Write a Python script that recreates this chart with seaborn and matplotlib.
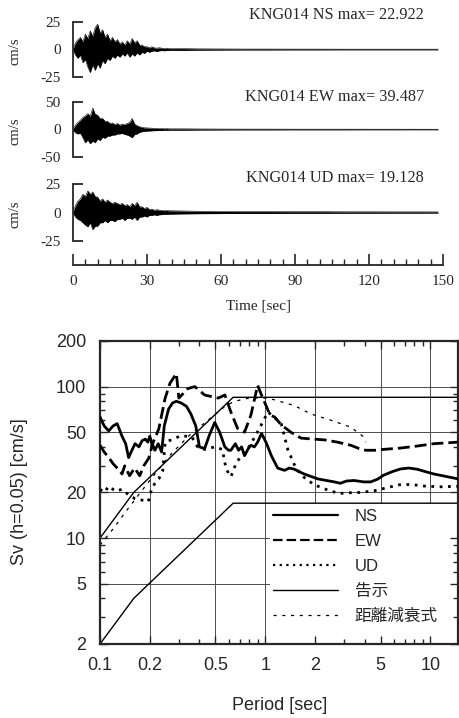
import numpy as np
import pandas as pd
import matplotlib
matplotlib.use("Agg")
import matplotlib.pyplot as plt
import seaborn as sns
from matplotlib.ticker import FixedLocator, FixedFormatter, NullFormatter, MultipleLocator, LogLocator
from matplotlib.font_manager import FontProperties
from matplotlib.patches import Rectangle

# ---------------- data: velocity traces (envelopes, cm/s) ----------------
TRACE_T = [0, 1, 2, 3, 4, 5, 6, 7, 8, 9, 10, 11, 12, 13, 14, 15, 16, 17, 18, 19, 20,
           21, 22, 23, 24, 25, 26, 27, 28, 29, 30, 31, 32, 33, 34, 35, 36, 37, 38, 39, 40,
           45, 50, 60, 70, 80, 90, 100, 110, 120, 130, 140, 148]

NS_UP = [0.5, 6, 9, 11, 7, 14, 10, 17, 12, 20, 23, 15, 18, 11, 14, 8, 11, 7, 9, 5, 7,
         4, 8, 5, 10, 6, 8, 4, 4, 2.5, 2.5, 1.5, 2.5, 1.5, 1.2, 1.6, 1.2, 0.9, 1.2, 0.8, 0.8,
         0.8, 0.6, 0.5, 0.4, 0.4, 0.35, 0.35, 0.3, 0.3, 0.3, 0.3, 0.3]
NS_LO = [-0.5, -5, -8, -5, -12, -9, -16, -21, -14, -19, -13, -17, -10, -13, -8, -10, -6, -8, -5, -7, -4,
         -6, -3, -7, -4, -6, -3, -5, -2.5, -3.5, -1.5, -2.5, -1.5, -1.2, -1.8, -1.2, -0.9, -1.2, -0.8, -0.8, -0.7,
         -0.8, -0.6, -0.5, -0.4, -0.4, -0.35, -0.35, -0.3, -0.3, -0.3, -0.3, -0.3]

EW_UP = [1, 8, 13, 17, 22, 25, 29, 24, 39, 28, 26, 20, 20, 15, 15, 11, 12, 9, 11, 8, 10,
         9, 11, 13, 20, 10, 7, 5, 4, 3, 3, 2.5, 2.5, 2, 2, 1.6, 1.8, 1.4, 1.6, 1.2, 1.2,
         1.2, 1.0, 0.8, 0.7, 0.7, 0.6, 0.6, 0.6, 0.55, 0.55, 0.5, 0.5]
EW_LO = [-1, -6, -8, -7, -15, -24, -19, -26, -21, -24, -17, -20, -14, -16, -12, -12, -10, -10, -8, -8, -7,
         -9, -10, -12, -15, -9, -8, -5, -4, -3, -3, -2.5, -2.5, -2, -2, -1.6, -1.8, -1.4, -1.6, -1.2, -1.2,
         -1.2, -1.0, -0.8, -0.7, -0.7, -0.6, -0.6, -0.6, -0.55, -0.55, -0.5, -0.5]

UD_UP = [0.5, 6, 10, 12, 16, 14, 19, 16, 18, 14, 13.5, 10, 12, 9, 11, 9, 8, 9, 8, 7, 8,
         6, 7, 5, 8, 6, 9, 5, 5, 3.5, 4.5, 2.5, 3, 2, 2.5, 2, 1.8, 1.6, 1.8, 1.5, 1.5,
         1.3, 1.1, 0.9, 0.8, 0.8, 0.7, 0.7, 0.6, 0.6, 0.55, 0.55, 0.5]
UD_LO = [-0.5, -4, -6, -7, -9, -11, -12.6, -9, -15, -12, -12, -9, -9, -7, -9, -7, -7, -8, -6, -6, -5,
         -7, -5, -5, -6, -4, -7, -4, -4, -3, -4, -2.5, -2.5, -2, -2.5, -2, -1.8, -1.6, -1.5, -1.5, -1.4,
         -1.2, -1.1, -0.9, -0.8, -0.8, -0.7, -0.7, -0.6, -0.6, -0.55, -0.55, -0.5]

TRACE_TITLES = ["KNG014 NS max= 22.922", "KNG014 EW max= 39.487", "KNG014 UD max= 19.128"]
TRACE_LIMS = [25, 50, 25]
TRACE_TICKLABELS = [["-25", "0", "25"], ["-50", "0", "50"], ["-25", "0", "25"]]
TIME_TICKS = [0, 30, 60, 90, 120, 150]

# ---------------- data: velocity response spectra ----------------
NS_T = [0.1, 0.106, 0.113, 0.12, 0.127, 0.136, 0.143, 0.149, 0.156, 0.163, 0.172, 0.18, 0.188, 0.195,
        0.2, 0.207, 0.215, 0.225, 0.236, 0.245, 0.26, 0.275, 0.29, 0.31, 0.334, 0.355, 0.38, 0.40,
        0.43, 0.46, 0.495, 0.53, 0.57, 0.6, 0.62, 0.66, 0.69, 0.72, 0.75, 0.79, 0.82, 0.86, 0.90,
        0.95, 0.98, 1.02, 1.09, 1.19, 1.31, 1.40, 1.50, 1.72, 2.08, 2.35, 2.62, 2.85, 3.1, 3.45,
        3.95, 4.35, 4.8, 5.2, 5.9, 6.6, 7.4, 8.3, 9.3, 10.5, 12.5, 14.7]
NS_SV = [63, 55, 51, 55, 57, 47, 42, 34, 38, 42, 40, 44, 45, 43,
         47, 42, 38, 42, 37, 55, 71, 78, 80, 78, 74, 66, 55, 40,
         39, 48, 58, 50, 40, 38, 38, 42, 38, 40, 35, 39, 41, 40, 43,
         49, 46, 42, 35, 29, 28, 29, 28.5, 26.5, 24.6, 24, 23.5, 23, 23.8, 24,
         23.5, 23.5, 24.5, 26, 27.5, 28.6, 29, 28.5, 27.5, 26.5, 25.5, 24.6]

EW_T = [0.1, 0.106, 0.113, 0.12, 0.127, 0.136, 0.141, 0.151, 0.162, 0.174, 0.184, 0.197, 0.21,
        0.227, 0.248, 0.265, 0.29, 0.30, 0.34, 0.375, 0.43, 0.52, 0.57, 0.62, 0.68, 0.75, 0.82,
        0.90, 0.95, 1.07, 1.14, 1.25, 1.43, 1.65, 1.98, 2.28, 2.74, 3.3, 3.7, 4.06, 4.6, 5.2,
        6.6, 8.3, 10.5, 12.5, 14.7]
EW_SV = [41, 37, 34, 31, 29, 26.5, 30, 25.8, 29, 25.8, 30, 33.6, 43,
         52.6, 84, 105, 122, 84, 97, 100, 88, 84, 88, 68, 53, 50, 65,
         102, 88, 65, 63, 56, 50, 45.7, 45, 44.5, 43, 41, 39, 38, 38, 38.5,
         39.3, 40.5, 42, 42.5, 43]

UD_T = [0.1, 0.106, 0.113, 0.124, 0.136, 0.149, 0.163, 0.18, 0.196, 0.205, 0.215, 0.227, 0.24,
        0.248, 0.27, 0.31, 0.36, 0.39, 0.43, 0.495, 0.55, 0.58, 0.62, 0.67, 0.70, 0.78, 0.85,
        0.92, 1.04, 1.13, 1.25, 1.37, 1.5, 1.65, 1.98, 2.38, 2.8, 3.15, 3.7, 4.55, 5.74, 6.5,
        7.6, 9.4, 11.7, 14.7]
UD_SV = [21, 20, 22, 20.4, 21, 19.3, 18.2, 17.8, 17.4, 21, 23, 24.6, 28,
         43, 44.5, 47.5, 46.5, 40, 38.5, 40, 38.5, 28.6, 25.4, 31.6, 33.6, 38.5, 45,
         52.6, 68, 63, 57, 38.5, 30.6, 26, 22.5, 20.8, 19.7, 19.9, 20, 20.5, 21.8, 22.5,
         22.6, 22, 21.8, 22]

CODE_T = [0.1, 0.16, 0.64, 14.7]
CODE_L1 = [2, 4, 17, 17]
CODE_L2 = [10, 20, 85, 85]

ATTEN_T = [0.1, 0.12, 0.15, 0.2, 0.27, 0.35, 0.45, 0.57, 0.65, 0.8, 1.0, 1.13, 1.5, 1.89,
           2.5, 3.3, 3.9, 4.06]
ATTEN_SV = [9, 11.5, 16, 24, 36, 48, 60, 74, 80, 84, 84, 82, 75, 66,
            60, 54, 47, 43]

PERIOD_TICKS = [0.1, 0.2, 0.5, 1, 2, 5, 10]
PERIOD_LABELS = ["0.1", "0.2", "0.5", "1", "2", "5", "10"]
SV_TICKS = [2, 5, 10, 20, 50, 100, 200]
SV_LABELS = ["2", "5", "10", "20", "50", "100", "200"]
LEGEND_LABELS = ["NS", "EW", "UD", "告示", "距離減衰式"]

# ---------------- figure ----------------
sns.set_style("ticks")
plt.rcParams["font.family"] = ["Liberation Serif", "DejaVu Sans"]
plt.rcParams["axes.linewidth"] = 1.3

W, H = 459, 718
fig = plt.figure(figsize=(W / 100, H / 100), dpi=100)


def box(l, t, r, b):
    return [l / W, 1 - b / H, (r - l) / W, (b - t) / H]


serif = "Liberation Serif"
sans = "Liberation Sans"

panel_px = [(22, 77), (102, 157), (184, 241)]
title_y = [15, 97, 178]
ups = [NS_UP, EW_UP, UD_UP]
los = [NS_LO, EW_LO, UD_LO]

axes_top = []
for i in range(3):
    t, b = panel_px[i]
    ax = fig.add_axes(box(73, t, 443, b))
    axes_top.append(ax)
    df = pd.DataFrame({"t": TRACE_T, "up": ups[i], "lo": los[i]})
    ax.fill_between(df["t"], df["lo"], df["up"], color="black", lw=0)
    sns.lineplot(data=df, x="t", y="up", ax=ax, color="black", lw=0.4)
    sns.lineplot(data=df, x="t", y="lo", ax=ax, color="black", lw=0.4)
    lim = TRACE_LIMS[i]
    ax.set_xlim(0, 150)
    ax.set_ylim(-lim, lim)
    ax.set_yticks([-lim, 0, lim])
    ax.set_yticklabels(TRACE_TICKLABELS[i], fontfamily=serif, fontsize=11)
    ax.tick_params(axis="y", direction="in", length=7, width=1.3, pad=9)
    for s in ["top", "right", "bottom"]:
        ax.spines[s].set_visible(False)
    ax.set_ylabel("cm/s", fontfamily=serif, fontsize=10.5)
    ax.yaxis.set_label_coords(-0.138, 0.47)
    ax.set_xlabel("")
    if i < 2:
        ax.set_xticks([])
    fig.text(424 / W, 1 - title_y[i] / H, TRACE_TITLES[i], ha="right", va="center",
             fontfamily=serif, fontsize=11.7)

ax3 = axes_top[2]
ax3.spines["bottom"].set_visible(True)
ax3.spines["bottom"].set_position(("outward", 17.3))
ax3.set_xticks(TIME_TICKS)
ax3.set_xticklabels([str(v) for v in TIME_TICKS], fontfamily=serif, fontsize=11)
ax3.xaxis.set_minor_locator(MultipleLocator(5))
ax3.tick_params(axis="x", which="major", direction="in", length=8, width=1.2, pad=7)
ax3.tick_params(axis="x", which="minor", direction="in", length=4, width=1.0)
ax3.set_xlabel("Time [sec]", fontfamily=serif, fontsize=11)
ax3.xaxis.set_label_coords(0.5, -1.02)

# ---------------- response spectra ----------------
ax = fig.add_axes(box(100, 341, 458, 644))
ax.set_xscale("log")
ax.set_yscale("log")
ax.set_xlim(0.1, 14.7)
ax.set_ylim(2, 200)

for v in PERIOD_TICKS[1:]:
    ax.axvline(v, color="0.3", lw=0.7, zorder=0.2)
for v in SV_TICKS[1:-1]:
    ax.axhline(v, color="0.3", lw=0.7, zorder=0.2)
ax.add_patch(Rectangle((0.475, 0.0), 0.525, 0.466, transform=ax.transAxes,
                       facecolor="white", edgecolor="none", zorder=0.3))

sns.lineplot(x=NS_T, y=NS_SV, ax=ax, color="black", lw=2.0, label=LEGEND_LABELS[0], zorder=3)
sns.lineplot(x=EW_T, y=EW_SV, ax=ax, color="black", lw=2.0, label=LEGEND_LABELS[1],
             linestyle=(0, (4.3, 1.8)), zorder=3)
sns.lineplot(x=UD_T, y=UD_SV, ax=ax, color="black", lw=2.0, label=LEGEND_LABELS[2],
             linestyle=(0, (1.0, 2.0)), zorder=3)
sns.lineplot(x=CODE_T, y=CODE_L1, ax=ax, color="black", lw=1.0, label=LEGEND_LABELS[3], zorder=2)
sns.lineplot(x=CODE_T, y=CODE_L2, ax=ax, color="black", lw=1.0, zorder=2)
sns.lineplot(x=ATTEN_T, y=ATTEN_SV, ax=ax, color="black", lw=0.9, label=LEGEND_LABELS[4],
             linestyle=(0, (2.5, 4.5)), zorder=2)

ax.xaxis.set_major_locator(FixedLocator(PERIOD_TICKS))
ax.xaxis.set_major_formatter(FixedFormatter(PERIOD_LABELS))
ax.yaxis.set_major_locator(FixedLocator(SV_TICKS))
ax.yaxis.set_major_formatter(FixedFormatter(SV_LABELS))
ax.xaxis.set_minor_locator(LogLocator(base=10, subs=[3, 4, 6, 7, 8, 9]))
ax.yaxis.set_minor_locator(LogLocator(base=10, subs=[3, 4, 6, 7, 8, 9]))
ax.xaxis.set_minor_formatter(NullFormatter())
ax.yaxis.set_minor_formatter(NullFormatter())
ax.tick_params(which="both", direction="in", top=True, right=True, width=1.0)
ax.tick_params(which="major", length=6)
ax.tick_params(which="minor", length=3.5)
ax.tick_params(axis="x", which="major", pad=9)
ax.tick_params(axis="y", which="major", pad=10)
for lab in ax.get_xticklabels() + ax.get_yticklabels():
    lab.set_fontfamily(sans)
    lab.set_fontsize(13)
for s in ax.spines.values():
    s.set_linewidth(1.6)

ax.set_xlabel("Period [sec]", fontfamily=sans, fontsize=13)
ax.xaxis.set_label_coords(0.503, -0.175)
ax.set_ylabel("Sv (h=0.05) [cm/s]", fontfamily=sans, fontsize=13)
ax.yaxis.set_label_coords(-0.201, 0.502)

handles, labels = ax.get_legend_handles_labels()
leg = ax.legend(handles, labels, loc="upper left", bbox_to_anchor=(0.483, 0.446),
                frameon=False, borderpad=0, borderaxespad=0, handlelength=3.9,
                handletextpad=1.0, labelspacing=0.6,
                prop=FontProperties(family=[sans, "Noto Sans CJK JP"], size=12))
for h in leg.get_lines():
    h.set_linewidth(min(h.get_linewidth(), 1.6))

fig.savefig("out.png", dpi=100)
